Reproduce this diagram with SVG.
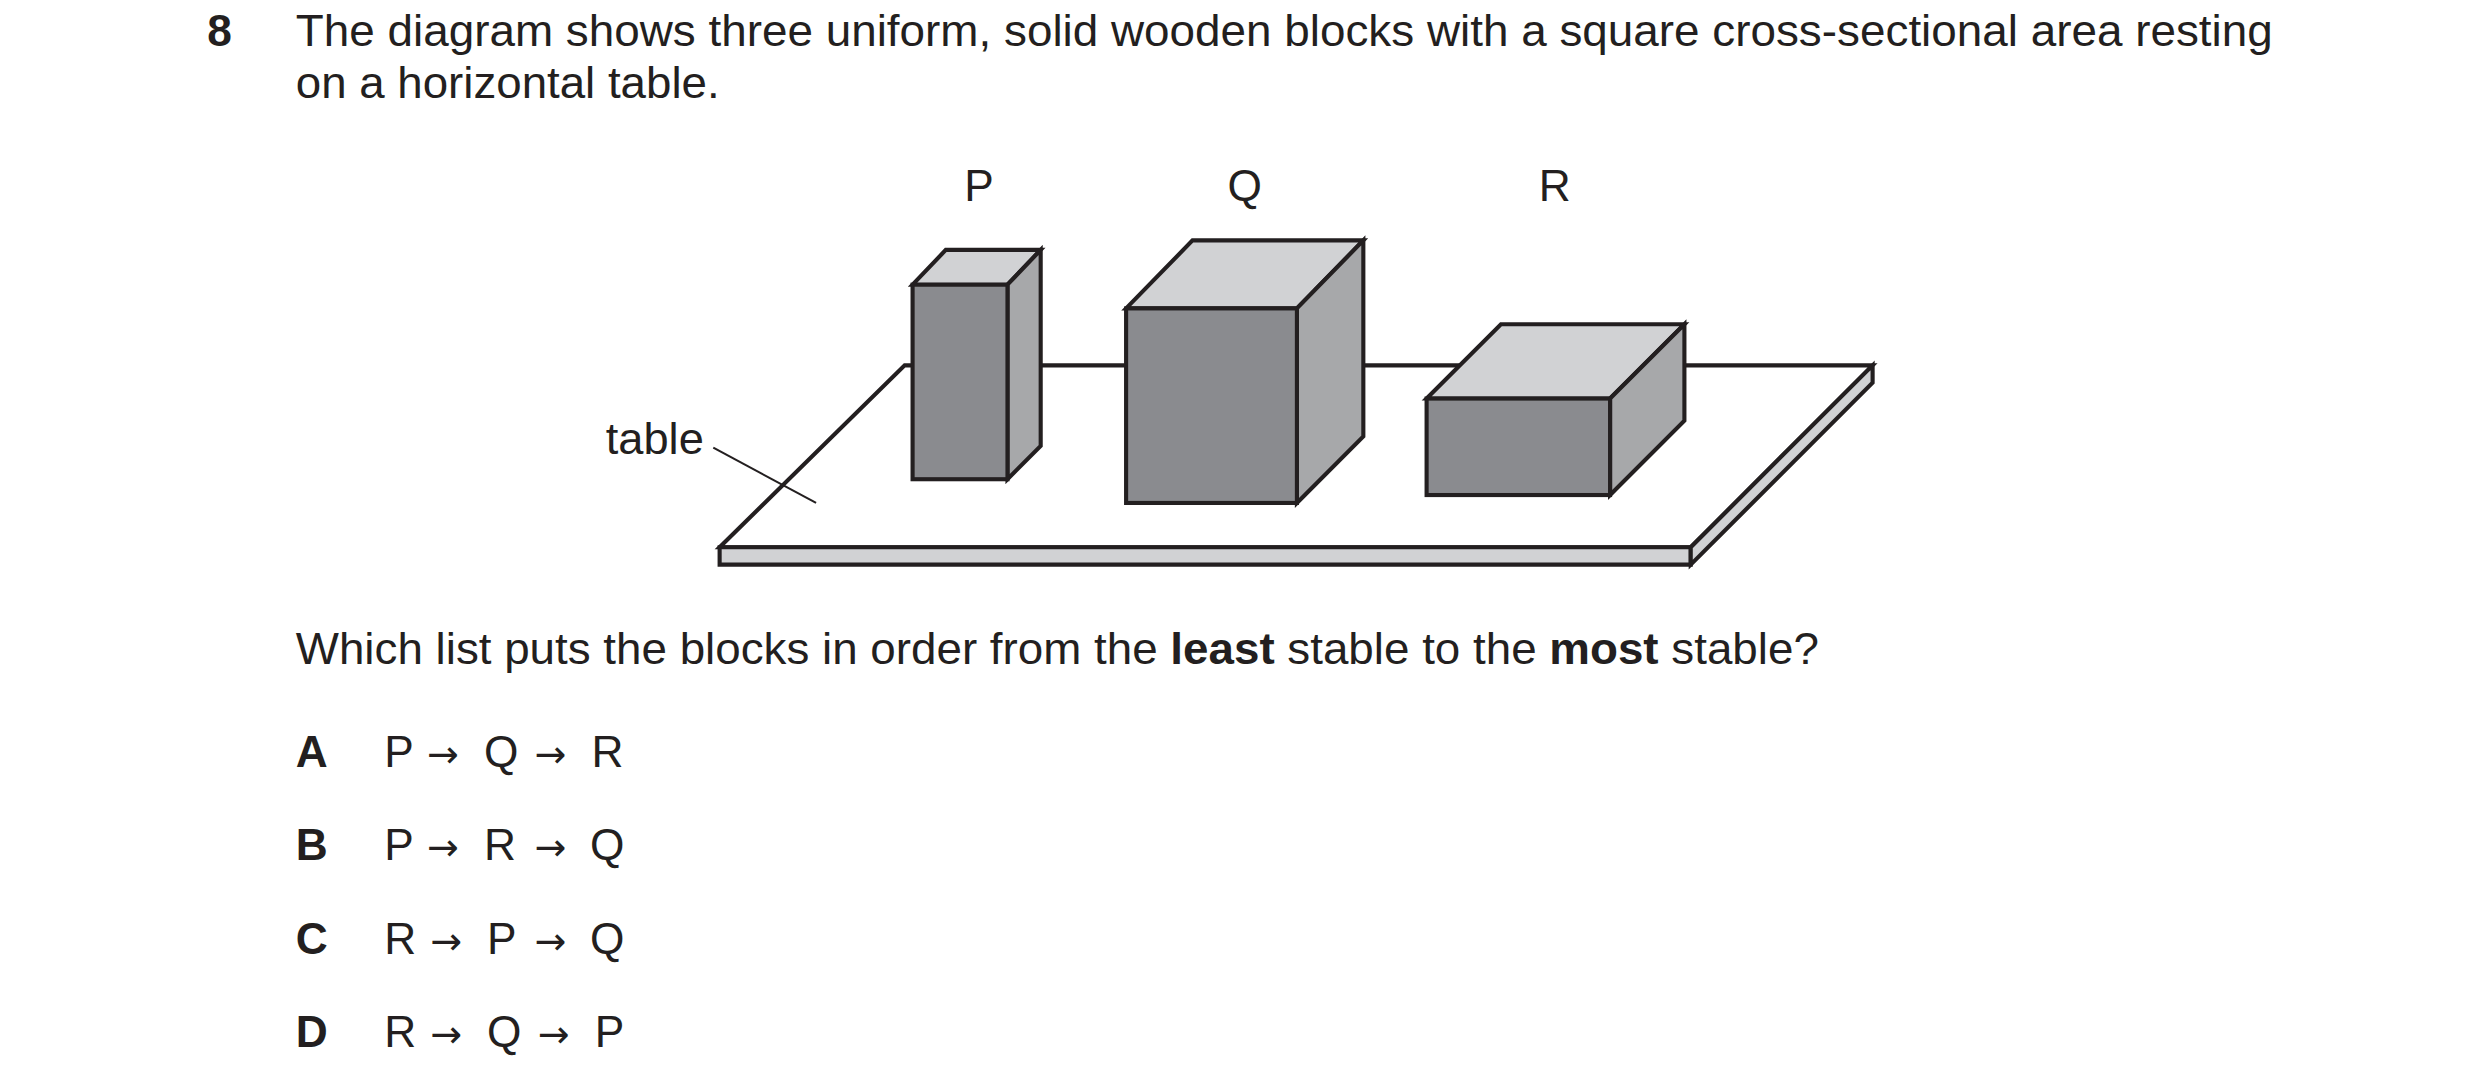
<svg xmlns="http://www.w3.org/2000/svg" width="2480" height="1090" viewBox="0 0 2480 1090">
<style>
text{font-family:"Liberation Sans",Arial,sans-serif;font-size:28px;fill:#231f20}
.b{font-weight:bold}
.a{font-family:"DejaVu Sans",sans-serif;font-size:24px}
.o{stroke:#231f20;stroke-width:2.6;stroke-linejoin:miter}
.t{stroke:#231f20;stroke-width:1.2}
.top{fill:#d1d2d4}.front{fill:#8a8b8f}.side{fill:#a7a8aa}
</style>
<rect width="2480" height="1090" fill="#fff"/>
<g transform="scale(1.5816)">
<g id="question">
<text x="131" y="29" class="b">8</text>
<text x="187" y="29" textLength="1250" lengthAdjust="spacingAndGlyphs">The diagram shows three uniform, solid wooden blocks with a square cross-sectional area resting</text>
<text x="187" y="62" textLength="268" lengthAdjust="spacingAndGlyphs">on a horizontal table.</text>
<text x="187" y="420" textLength="963" lengthAdjust="spacingAndGlyphs">Which list puts the blocks in order from the <tspan class="b">least</tspan> stable to the <tspan class="b">most</tspan> stable?</text>
</g>
<g id="table">
<polygon points="572,231 1184,231 1069,346 455,346" fill="#fff" class="o"/>
<polygon points="455,346 1069,346 1069,357 455,357" class="top o"/>
<polygon points="1069,346 1184,231 1184,242 1069,357" class="top o"/>
<line x1="1069" y1="346" x2="1069" y2="357" class="t"/>
<text x="383" y="287" textLength="62" lengthAdjust="spacingAndGlyphs">table</text>
</g>
<g id="blockP">
<polygon points="577,180 598,158 658,158 637,180" class="top o"/>
<polygon points="637,180 658,158 658,282 637,303" class="side o"/>
<rect x="577" y="180" width="60" height="123" class="front o"/>
</g>
<g id="blockQ">
<polygon points="712,195 754,152 862,152 820,195" class="top o"/>
<polygon points="820,195 862,152 862,276 820,318" class="side o"/>
<rect x="712" y="195" width="108" height="123" class="front o"/>
</g>
<g id="blockR">
<polygon points="902,252 949,205 1065,205 1018,252" class="top o"/>
<polygon points="1018,252 1065,205 1065,266 1018,313" class="side o"/>
<rect x="902" y="252" width="116" height="61" class="front o"/>
</g>
<g id="labels" text-anchor="middle">
<text x="619" y="127">P</text>
<text x="787" y="127">Q</text>
<text x="983" y="127">R</text>
</g>
<g id="connectors">
<line x1="451" y1="283" x2="516" y2="318" stroke="#231f20" stroke-width="1.3"/>
</g>
<g id="options">
<text x="187" y="485" class="b">A</text><text x="243" y="485">P<tspan class="a" x="270">→</tspan><tspan x="306">Q</tspan><tspan class="a" x="338">→</tspan><tspan x="374">R</tspan></text>
<text x="187" y="544" class="b">B</text><text x="243" y="544">P<tspan class="a" x="270">→</tspan><tspan x="306">R</tspan><tspan class="a" x="338">→</tspan><tspan x="373">Q</tspan></text>
<text x="187" y="603" class="b">C</text><text x="243" y="603">R<tspan class="a" x="272">→</tspan><tspan x="308">P</tspan><tspan class="a" x="338">→</tspan><tspan x="373">Q</tspan></text>
<text x="187" y="662" class="b">D</text><text x="243" y="662">R<tspan class="a" x="272">→</tspan><tspan x="308">Q</tspan><tspan class="a" x="340">→</tspan><tspan x="376">P</tspan></text>
</g>
</g>
</svg>
